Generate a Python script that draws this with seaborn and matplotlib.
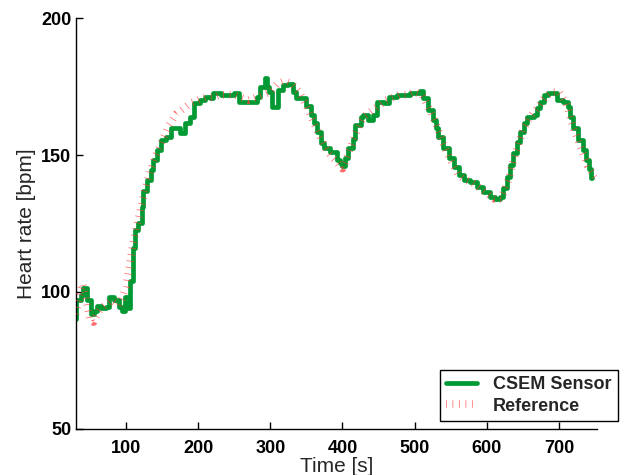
#Heart rate: CSEM sensor vs reference
import numpy as np
import pandas as pd
import seaborn as sns
import matplotlib.pyplot as plt

# values
sensor_time = [30, 31, 37, 41, 46, 51, 55, 60, 65, 72, 76, 83, 90, 95, 99, 103, 106, 110, 113,
               117, 122, 124, 129, 134, 138, 143, 148, 155, 162, 169, 175, 182, 189, 194, 203,
               210, 217, 221, 231, 249, 256, 277, 282, 286, 292, 295, 298, 303, 310, 317, 325,
               331, 335, 342, 349, 356, 360, 365, 370, 374, 383, 393, 397, 400, 404, 408, 414,
               418, 425, 429, 436, 443, 448, 457, 464, 476, 494, 508, 512, 519, 525, 529, 533,
               540, 547, 554, 561, 568, 577, 587, 595, 605, 612, 619, 623, 628, 632, 637, 642,
               646, 651, 656, 665, 670, 674, 679, 685, 692, 698, 705, 712, 716, 720, 726, 733,
               737, 741, 745, 746]
sensor_hr = [90, 97, 99, 101.5, 97, 92, 93, 95, 94, 94.6, 98, 97, 94.5, 93, 98, 94, 104, 116,
             122.6, 125, 131, 137, 141, 144.5, 148, 151.8, 155.5, 156.6, 159.8, 160, 158,
             161.7, 164, 169, 170, 171, 170.8, 172.6, 172, 172.6, 169.3, 169.3, 171, 174.8,
             178, 174.8, 173, 167.5, 173.7, 175.5, 176, 173, 170.8, 170.8, 168, 164.6, 161.7,
             158.4, 154.4, 152.6, 151, 148, 147, 146, 149, 152.6, 156, 161, 164, 164.6, 162.8,
             164.6, 169.3, 169, 171, 172, 172.6, 173.4, 170.8, 166.4, 162.8, 159.9, 156.6,
             152.6, 149, 145.6, 142.7, 141, 140, 138.3, 136.5, 134.7, 133.9, 134.7, 138, 142,
             146.4, 150.7, 154.7, 158.4, 161.7, 163.9, 164.6, 167.2, 169.3, 171.9, 172.6,
             172.6, 170, 169.3, 167.5, 163.9, 159.9, 155.5, 151.8, 148, 145, 141.6, 141.6]

ref_time = [30, 35, 40, 45, 50, 55, 60, 65, 70, 75, 80, 85, 90, 95, 100, 105, 110, 115, 120,
            125, 130, 135, 140, 145, 150, 155, 160, 165, 170, 175, 180, 185, 190, 200, 210,
            220, 230, 240, 250, 260, 270, 280, 290, 300, 310, 320, 330, 340, 350, 360, 370,
            380, 390, 400, 405, 410, 420, 430, 440, 450, 460, 470, 480, 490, 500, 510, 520,
            530, 540, 550, 560, 570, 580, 590, 600, 610, 620, 630, 640, 650, 660, 670, 680,
            690, 700, 710, 720, 730, 740, 750]
ref_hr = [92, 98, 103, 97, 90, 89, 92, 94, 95, 96, 97, 96, 95, 98, 102, 110, 118, 124, 130,
          136, 141, 145, 149, 152, 155, 158, 161, 163, 165, 166, 167, 168, 169, 170, 171, 171,
          172, 172, 172, 171, 170, 171, 172, 173, 176, 177, 176, 173, 168, 162, 156, 151, 148,
          145, 148, 152, 159, 164, 166, 168, 170, 171, 172, 172, 173, 172, 167, 161, 154, 148,
          143, 141, 140, 138, 136, 134, 134, 141, 151, 159, 164, 167, 171, 173, 173, 169, 160,
          153, 146, 142]

sensor = pd.DataFrame({'Time': sensor_time, 'HR': sensor_hr})
reference = pd.DataFrame({'Time': ref_time, 'HR': ref_hr})

sns.set_style("ticks")
plt.rcParams['font.family'] = ['Liberation Sans', 'DejaVu Sans']

fig = plt.figure(figsize=(6.24, 4.75), dpi=100)
ax = fig.add_axes([0.121, 0.097, 0.836, 0.865])

sns.lineplot(data=sensor, x='Time', y='HR', ax=ax, color='#009933', linewidth=3.4,
             drawstyle='steps-post', label='CSEM Sensor', zorder=2,
             solid_joinstyle='round', solid_capstyle='round')
sns.lineplot(data=reference, x='Time', y='HR', ax=ax, color='#ff3b3b', linewidth=5.5,
             alpha=0.75, dashes=False, label='Reference', zorder=3)
# red dotted look: very short dashes on a wide line -> small crossing ticks
ax.get_lines()[1].set_dashes((0.1, 0.75))
ax.get_lines()[1].set_dash_capstyle('butt')

ax.set_xlim(30, 753)
ax.set_ylim(50, 200)
ax.set_xticks([100, 200, 300, 400, 500, 600, 700])
ax.set_yticks([50, 100, 150, 200])
ax.tick_params(direction='in', length=5, width=1, labelsize=13, colors='black')
ax.tick_params(axis='x', pad=8)
ax.tick_params(axis='y', pad=3)
for lbl in ax.get_xticklabels() + ax.get_yticklabels():
    lbl.set_fontweight('bold')
sns.despine(ax=ax)
ax.spines['left'].set_linewidth(1)
ax.spines['bottom'].set_linewidth(1)
ax.spines['left'].set_color('black')
ax.spines['bottom'].set_color('black')

ax.set_xlabel('Time [s]', fontsize=15, labelpad=0)
ax.set_ylabel('Heart rate [bpm]', fontsize=15, labelpad=4)

leg = ax.legend(loc='lower right', bbox_to_anchor=(0.99, 0.114), bbox_transform=fig.transFigure,
                fancybox=False, edgecolor='black', framealpha=1, borderaxespad=0,
                prop={'weight': 'bold', 'size': 13}, handlelength=1.7, handletextpad=0.9,
                borderpad=0.35, labelspacing=0.25)
leg.get_frame().set_linewidth(1)

plt.savefig('out.png', dpi=100)
